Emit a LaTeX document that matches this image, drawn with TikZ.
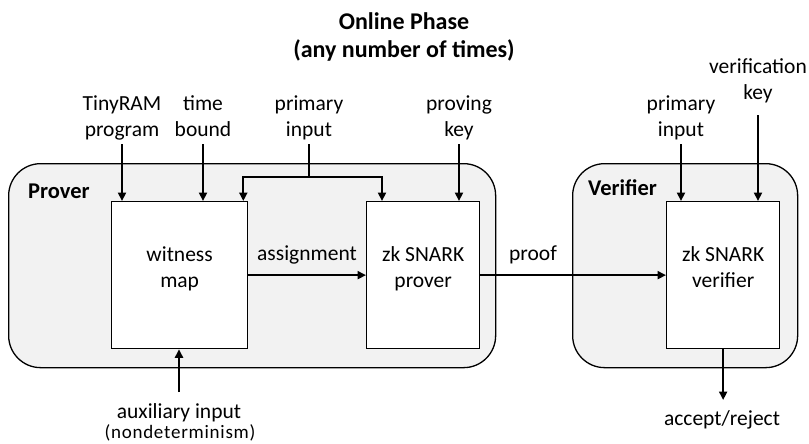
\documentclass[tikz,border=0pt]{standalone}
\usepackage{fontspec}
\setmainfont{Carlito}
\usetikzlibrary{arrows.meta}
\definecolor{groupgray}{RGB}{242,242,242}
% invisible rule that fixes the depth below a line
\newcommand\dropby[1]{\rule[-#1]{0pt}{#1}}
\begin{document}
\begin{tikzpicture}[x=1pt,y=-1pt,
  txt/.style={font=\fontsize{21.5}{26}\selectfont, align=center, inner sep=0pt},
  grouptxt/.style={txt, font=\fontsize{22.5}{27}\selectfont\bfseries},
  headtxt/.style={txt, font=\fontsize{24}{28}\selectfont\bfseries},
  smalltxt/.style={font=\fontsize{19}{21}\selectfont\addfontfeature{LetterSpace=4}, inner sep=0pt},
  group/.style={draw, line width=1.3pt, fill=groupgray, rounded corners=32pt, inner sep=0pt},
  stage/.style={draw, line width=1.3pt, fill=white, inner sep=0pt},
  wire/.style={line width=2.2pt},
  flow/.style={wire, -{Triangle[length=8.5pt,width=8pt]}}
]
\useasboundingbox (0,0) rectangle (809,444);

% title
\node[headtxt] (title) at (404,37) {Online Phase\\(any number of times)};

% prover and verifier regions
\node[group, anchor=north west, minimum width=487pt, minimum height=204pt] (prv) at (8,163) {};
\node[group, anchor=north west, minimum width=225pt, minimum height=204pt] (ver) at (572,163) {};
\node[grouptxt, anchor=base west] (prvlab) at (28,198) {Prover};
\node[grouptxt, anchor=base west] (verlab) at (588,195) {Verifier};

% processing stages
\node[stage, anchor=north west, minimum width=136pt, minimum height=147pt] (wm) at (111,201) {};
\node[stage, anchor=north west, minimum width=113pt, minimum height=147pt] (zp) at (366,201) {};
\node[stage, anchor=north west, minimum width=113pt, minimum height=147pt] (zv) at (666,201) {};
\node[txt] (wmtxt) at ([yshift=6pt]wm.center) {witness\\map\dropby{4.5pt}};
\node[txt] (zptxt) at ([yshift=6pt]zp.center) {zk SNARK\\prover\dropby{4.5pt}};
\node[txt] (zvtxt) at ([yshift=6pt]zv.center) {zk SNARK\\verifier\dropby{4.5pt}};

% inputs from above
\node[txt, anchor=south] (tr) at (122,144) {TinyRAM\\program\dropby{7pt}};
\node[txt, anchor=south] (tb) at (203,144) {time\\bound\dropby{7pt}};
\node[txt, anchor=south] (pi) at (309,144) {primary\\input\dropby{7pt}};
\node[txt, anchor=south] (pk) at (459,144) {proving\\key\dropby{7pt}};
\node[txt, anchor=south] (vi) at (681,144) {primary\\input\dropby{7pt}};
\node[txt, anchor=south] (vk) at (758,115) {verification\\key\dropby{15pt}};

% inputs and outputs below
\node[txt, anchor=north] (ai) at (179,392) {\rule{0pt}{26pt}auxiliary input};
\node[smalltxt, anchor=base] (nd) at (180,438) {(nondeterminism)};
\node[txt, anchor=north] (ar) at (722,400) {\rule{0pt}{25pt}accept/reject};

% edge labels
\node[txt, anchor=base] (asg) at (307,260) {assignment};
\node[txt, anchor=base] (prf) at (533,260) {proof};

% connectors
\draw[flow] (tr.south) -- (tr.south |- wm.north);
\draw[flow] (tb.south) -- (tb.south |- wm.north);
\coordinate (jn) at (309,177);
\draw[wire] (pi.south) -- (jn);
\draw[flow] (jn) -| ([xshift=-5pt]wm.north east);
\draw[flow] (jn) -| ([xshift=16pt]zp.north west);
\draw[flow] (pk.south) -- (pk.south |- zp.north);
\draw[flow] (vi.south) -- (vi.south |- zv.north);
\draw[flow] (vk.south) -- (vk.south |- zv.north);
\draw[flow] (wm.east) -- (zp.west);
\draw[flow] (zp.east) -- (zv.west);
\draw[flow] (ai.north) -- (ai.north |- wm.south);
\draw[flow] (zv.south) -- (zv.south |- ar.north);
\end{tikzpicture}
\end{document}
